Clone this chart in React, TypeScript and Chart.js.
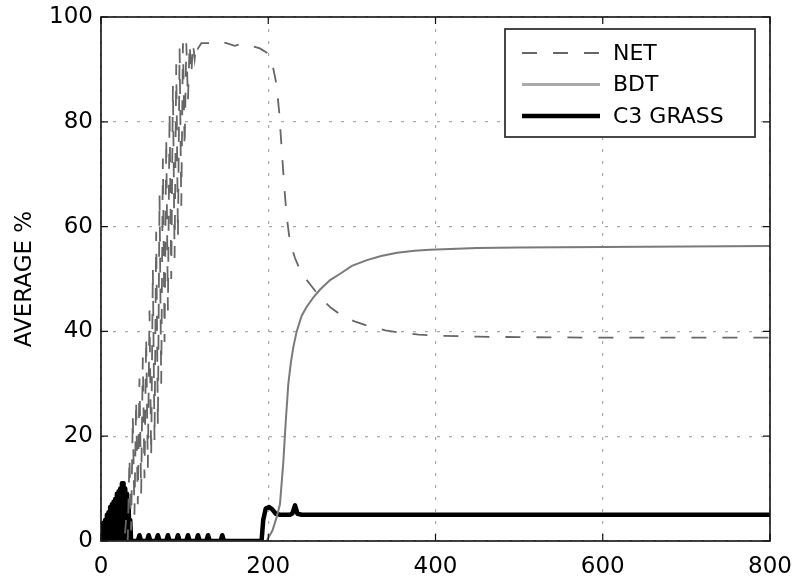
import React, { useEffect, useRef } from 'react';
import { Chart, registerables } from 'chart.js';

Chart.register(...registerables);

// ---- data ----
const xTicks: number[] = [0, 200, 400, 600, 800];
const yTicks: number[] = [0, 20, 40, 60, 80, 100];
const seriesNames: string[] = ['NET', 'BDT', 'C3 GRASS'];
const yAxisTitle = 'AVERAGE %';

const netPoints: [number, number][] = [
  [0, 0], [28, 0], [30, 4], [32, 0], [34, 16], [36, 2], [38, 24], [40, 5], [42, 27], [44, 7],
  [46, 31], [48, 9], [50, 35], [52, 12], [54, 39], [56, 14], [58, 44], [60, 16], [62, 52],
  [64, 19], [66, 59], [68, 22], [70, 66], [72, 30], [74, 73], [76, 38], [78, 77], [80, 44],
  [82, 82], [84, 50], [86, 87], [88, 54], [90, 91], [92, 58], [94, 94], [96, 64], [98, 95],
  [100, 75], [102, 95], [104, 84], [106, 95], [108, 89], [110, 95], [112, 92], [114, 95],
  [116, 94], [120, 95], [130, 95], [140, 95.5], [150, 95], [160, 94.5], [170, 95], [180, 94.5],
  [190, 94], [200, 93], [205, 91], [210, 87], [213, 82], [216, 75], [219, 68], [222, 62],
  [226, 57], [232, 54], [240, 51], [250, 49], [262, 46.5], [275, 44.5], [290, 42.8],
  [305, 41.8], [320, 41], [340, 40.2], [360, 39.7], [380, 39.4], [400, 39.2], [450, 39],
  [500, 38.9], [600, 38.8], [700, 38.8], [800, 38.8],
];

const bdtPoints: [number, number][] = [
  [0, 0], [198, 0], [205, 2], [210, 4.5], [214, 7], [218, 15], [221, 23], [224, 30],
  [227, 34], [230, 37], [234, 40], [240, 43], [246, 44.7], [254, 46.5], [262, 48],
  [274, 49.8], [286, 51], [300, 52.5], [318, 53.6], [335, 54.4], [354, 55], [375, 55.4],
  [393, 55.6], [450, 55.9], [500, 56], [600, 56.1], [700, 56.2], [800, 56.3],
];

const c3Points: [number, number][] = [
  [0, 0], [1, 3], [2, 0], [3, 3.5], [4, 0], [5, 4], [6, 0], [7, 5], [8, 0], [9, 5.5],
  [10, 0], [11, 6.5], [12, 0], [13, 7], [14, 0], [15, 7.5], [16, 0], [17, 8], [18, 0],
  [19, 9], [20, 0], [21, 9.5], [22, 0], [23, 10], [24, 0], [25, 11], [26, 0], [27, 11],
  [28, 0], [29, 10], [30, 0], [31, 9], [32, 0], [33, 7], [34, 0], [35, 4], [36, 0],
  [44, 0], [46, 1.1], [48, 0], [55, 0], [57, 1.1], [59, 0], [66, 0], [68, 1.1], [70, 0],
  [78, 0], [80, 1.1], [82, 0], [90, 0], [92, 1.1], [94, 0], [102, 0], [104, 1.1], [106, 0],
  [114, 0], [116, 1.1], [118, 0], [126, 0], [128, 1.1], [130, 0], [143, 0], [145, 1.1],
  [147, 0], [192, 0], [194, 4], [197, 6.2], [201, 6.5], [205, 6], [209, 5.2], [214, 5],
  [226, 5], [229, 5.3], [232, 6.8], [235, 5.2], [240, 5], [800, 5],
];

const FONT = '"DejaVu Sans", "Liberation Sans", sans-serif';

const toXY = (pts: [number, number][]) => pts.map(([x, y]) => ({ x, y }));

const framePlugin = {
  id: 'frameAndLegend',
  afterDraw(chart: any) {
    const { ctx, chartArea, scales } = chart;
    const { left, right, top, bottom } = chartArea;
    ctx.save();
    ctx.setLineDash([]);
    ctx.strokeStyle = '#111';
    ctx.lineWidth = 1.6;
    ctx.strokeRect(left, top, right - left, bottom - top);
    ctx.lineWidth = 1.2;
    xTicks.forEach((v) => {
      const p = scales.x.getPixelForValue(v);
      ctx.beginPath();
      ctx.moveTo(p, bottom);
      ctx.lineTo(p, bottom - 7);
      ctx.moveTo(p, top);
      ctx.lineTo(p, top + 7);
      ctx.stroke();
    });
    yTicks.forEach((v) => {
      const p = scales.y.getPixelForValue(v);
      ctx.beginPath();
      ctx.moveTo(left, p);
      ctx.lineTo(left + 7, p);
      ctx.moveTo(right, p);
      ctx.lineTo(right - 7, p);
      ctx.stroke();
    });

    // legend box
    const bx = right - 265;
    const by = top + 12;
    const bw = 250;
    const bh = 108;
    ctx.fillStyle = '#fff';
    ctx.fillRect(bx, by, bw, bh);
    ctx.strokeStyle = '#333';
    ctx.lineWidth = 1.8;
    ctx.strokeRect(bx, by, bw, bh);
    const ds = chart.data.datasets;
    ds.forEach((d: any, i: number) => {
      const cy = by + 24 + i * 31.5;
      ctx.save();
      ctx.strokeStyle = d.legendColor || d.borderColor;
      ctx.lineWidth = d.legendWidth || d.borderWidth;
      ctx.setLineDash(d.borderDash || []);
      ctx.beginPath();
      ctx.moveTo(bx + 17, cy);
      ctx.lineTo(bx + 95, cy);
      ctx.stroke();
      ctx.restore();
      ctx.fillStyle = '#000';
      ctx.font = '22px ' + FONT;
      ctx.textBaseline = 'middle';
      ctx.textAlign = 'left';
      ctx.fillText(d.label, bx + 108, cy + 1);
    });
    ctx.restore();
  },
};

export default function App() {
  const ref = useRef<HTMLCanvasElement | null>(null);
  useEffect(() => {
    if (!ref.current) return;
    const chart = new Chart(ref.current, {
      type: 'scatter',
      data: {
        datasets: [
          {
            label: seriesNames[0],
            data: toXY(netPoints),
            showLine: true,
            borderColor: '#666',
            borderWidth: 1.8,
            borderDash: [15, 16],
            pointRadius: 0,
            tension: 0,
          },
          {
            label: seriesNames[1],
            data: toXY(bdtPoints),
            showLine: true,
            borderColor: '#7a7a7a',
            borderWidth: 2,
            legendColor: '#aaa',
            legendWidth: 3,
            pointRadius: 0,
            tension: 0,
          } as any,
          {
            label: seriesNames[2],
            data: toXY(c3Points),
            showLine: true,
            borderColor: '#000',
            borderWidth: 4.5,
            borderJoinStyle: 'round',
            borderCapStyle: 'round',
            pointRadius: 0,
            tension: 0,
          },
        ],
      },
      options: {
        animation: false,
        responsive: false,
        devicePixelRatio: 1,
        layout: { padding: { left: 0, top: 17, right: 22, bottom: 0 } },
        plugins: {
          legend: { display: false },
          tooltip: { enabled: false },
        },
        scales: {
          x: {
            type: 'linear',
            min: 0,
            max: 800,
            afterFit: (s: any) => {
              s.height = 36;
              s.paddingLeft = 0;
              s.paddingRight = 0;
            },
            afterBuildTicks: (s: any) => {
              s.ticks = xTicks.map((v) => ({ value: v }));
            },
            ticks: {
              color: '#000',
              font: { family: FONT, size: 23 },
              padding: 12,
              maxRotation: 0,
            },
            grid: { color: '#aaa', lineWidth: 1.2, drawTicks: false },
            border: { display: false, dash: [3, 9] },
          },
          y: {
            type: 'linear',
            min: 0,
            max: 100,
            afterFit: (s: any) => {
              s.width = 101;
              s.paddingTop = 0;
              s.paddingBottom = 0;
            },
            afterBuildTicks: (s: any) => {
              s.ticks = yTicks.map((v) => ({ value: v }));
            },
            ticks: {
              color: '#000',
              font: { family: FONT, size: 23 },
              padding: 8,
            },
            title: {
              display: true,
              text: yAxisTitle,
              color: '#000',
              font: { family: FONT, size: 23 },
              padding: { top: 11, bottom: 0 },
            },
            grid: { color: '#aaa', lineWidth: 1.2, drawTicks: false },
            border: { display: false, dash: [3, 9] },
          },
        },
      },
      plugins: [framePlugin],
    });
    return () => chart.destroy();
  }, []);
  return (
    <div style={{ position: 'absolute', left: 0, top: 0, width: 792, height: 577, background: '#fff' }}>
      <canvas ref={ref} width={792} height={577} />
    </div>
  );
}
